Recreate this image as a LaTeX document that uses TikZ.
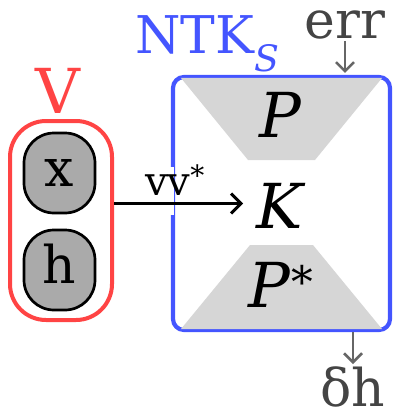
\documentclass[tikz,border=0pt]{standalone}
\usepackage{fontspec}
\setmainfont{DejaVu Serif}
\usetikzlibrary{calc,arrows.meta}
\definecolor{vred}{HTML}{FF4444}
\definecolor{ntkblue}{HTML}{4455FF}
\definecolor{kerngray}{HTML}{D6D6D6}
\definecolor{vargray}{HTML}{AAAAAA}
\definecolor{errgray}{HTML}{444444}
\definecolor{flowgray}{HTML}{666666}
\newcommand{\bigfont}{\fontsize{52}{60}\selectfont}
\newcommand{\hugefont}{\fontsize{62}{72}\selectfont}
\newcommand{\labelfont}{\fontsize{40}{48}\selectfont}

\tikzset{
  var/.style={draw=black, fill=vargray, line width=2.7pt, rounded corners=30pt,
    minimum width=71pt, minimum height=80pt, inner sep=0pt, font=\bigfont,
    text height=30pt, text depth=4pt},
  mat/.style={inner sep=0pt, font=\hugefont},
  txt/.style={inner sep=0pt, font=\bigfont},
  flow/.style={draw=flowgray, line width=2.5pt, -{Straight Barb[length=9pt,width=18pt]}},
}

\begin{document}
\begin{tikzpicture}[x=1pt, y=-1pt]
\useasboundingbox (0,0) rectangle (393,413);

%% The V block with its two variables
\node[draw=vred, line width=4pt, rounded corners=36pt, minimum width=102pt,
  minimum height=199pt] (vbox) at (61,220.5) {};
\node[txt, font=\hugefont, text=vred, anchor=base] (vlbl) at (57.5,113) {V};
\node[var] (vx) at (59.5,173) {x};
\node[var] (vh) at (59.5,270) {h};

%% The NTK block, drawn as a rounded box
\node[draw=ntkblue, line width=4.2pt, rounded corners=11pt, minimum width=217pt,
  minimum height=253pt] (ntk) at (281.5,203.5) {};
\node[txt, text=ntkblue, anchor=base west] (ntklbl) at (135,53) {NTK\textsubscript{\textit{S}}};

%% Trapezoids for P (top) and P* (bottom)
\fill[kerngray] ($ (ntk.north west) + (10,3) $) -- ($ (ntk.north east) + (-10,3) $)
  -- ($ (ntk.center) + (33.5,-43.5) $) -- ($ (ntk.center) + (-33.5,-43.5) $) -- cycle;
\fill[kerngray] ($ (ntk.south west) + (10,-3) $) -- ($ (ntk.south east) + (-10,-3) $)
  -- ($ (ntk.center) + (31.5,41.5) $) -- ($ (ntk.center) + (-31.5,41.5) $) -- cycle;
\node[mat, anchor=base] (pmat) at (281,137) {\textit{P}};
\node[mat, anchor=base] (kern) at (281,228) {\textit{K}};
\node[mat, anchor=base] (pstar) at (281,307) {\textit{P}\textsuperscript{*}};

%% Break in the left edge where vv* enters
\fill[white] ($ (ntk.west) + (-3.5,-37) $) rectangle ($ (ntk.west) + (3.5,11.5) $);
\draw[line width=3pt, -{Straight Barb[length=10pt,width=20pt]}, shorten >=13pt]
  (ntk.center -| vbox.east) -- (ntk.center -| kern.west)
  node[pos=0.43, above=7pt, inner sep=0pt, font=\labelfont] (vvlbl) {vv\textsuperscript{*}};

%% Error in, delta h out
\node[txt, text=errgray, anchor=base] (err) at (345,38) {err};
\node[txt, text=errgray, anchor=base] (dh) at (353,406) {δh};
\draw[flow, shorten <=2pt, shorten >=2pt] (err.south) -- (err.south |- ntk.north);
\draw[flow, shorten >=2pt] (dh.north |- ntk.south) -- (dh.north);

\end{tikzpicture}
\end{document}
